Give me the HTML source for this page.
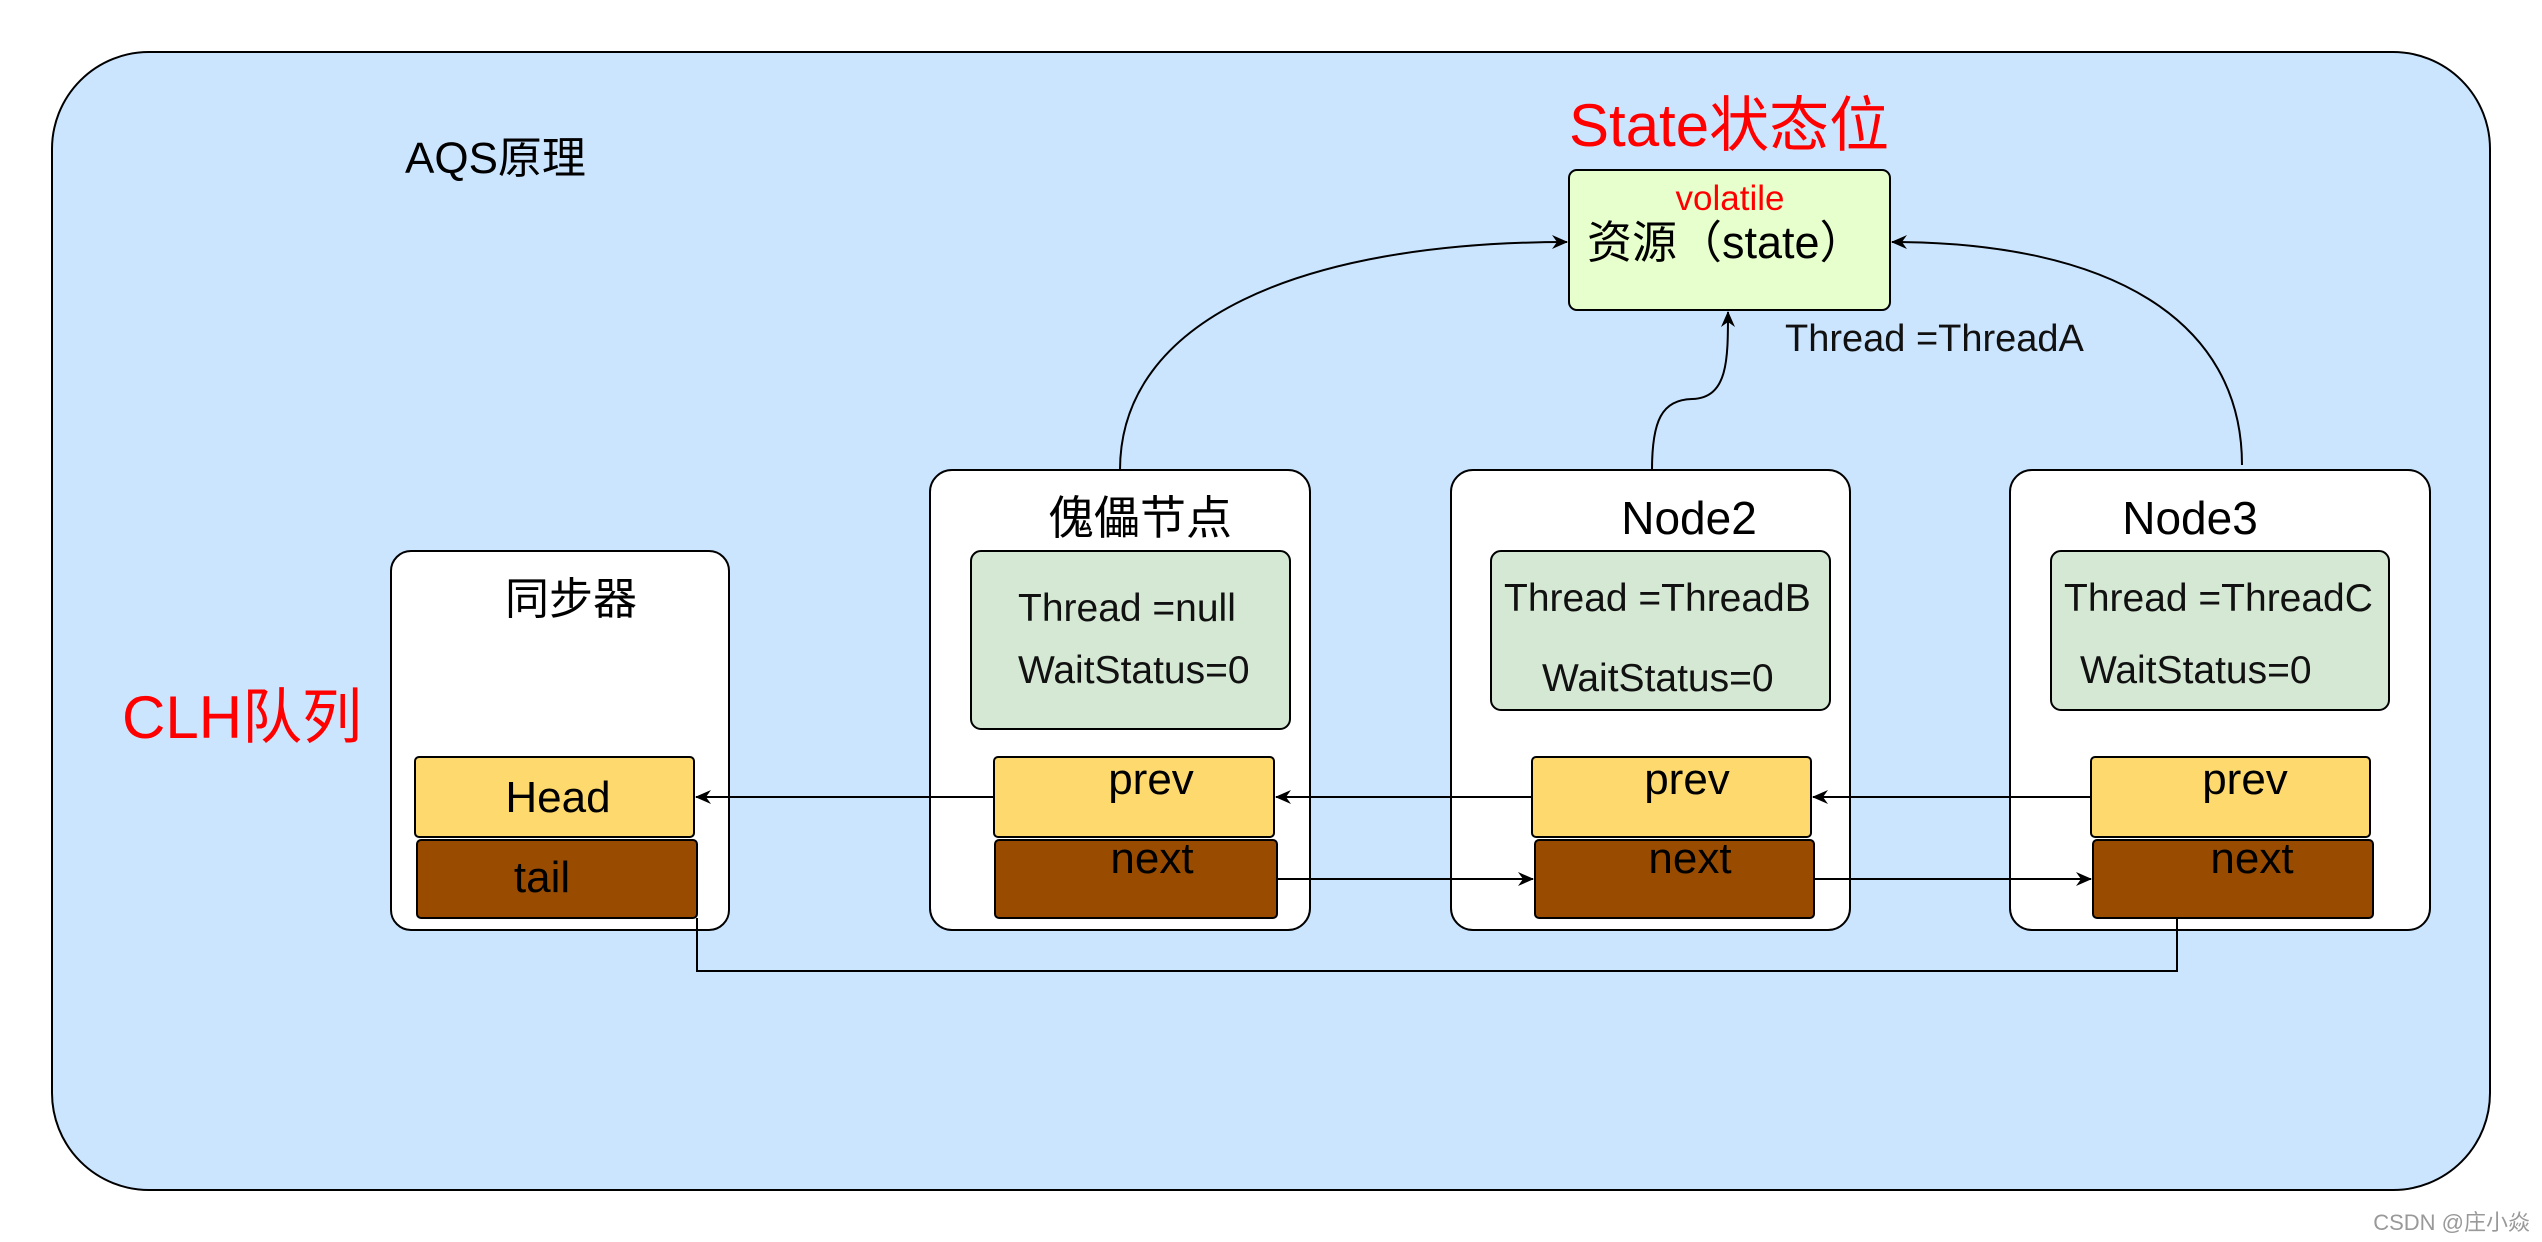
<!DOCTYPE html>
<html><head><meta charset="utf-8"><style>
html,body{margin:0;padding:0;background:#fff;}
svg{display:block;}
text{font-family:"Liberation Sans","Noto Sans CJK SC",sans-serif;}
</style></head><body>
<svg width="2542" height="1242" viewBox="0 0 2542 1242" xmlns="http://www.w3.org/2000/svg">
<defs>
<marker id="ah" markerWidth="16" markerHeight="16" refX="15" refY="8" orient="auto" markerUnits="userSpaceOnUse">
<path d="M0,1 L16,8 L0,15 L5,8 Z" fill="#000"/>
</marker>
</defs>
<rect x="52" y="52" width="2438" height="1138" rx="97" fill="#cce5ff" stroke="#000" stroke-width="2"/>
<text x="405" y="173" font-size="44">AQS原理</text>
<text x="1569" y="146" font-size="60" fill="#ff0000">State状态位</text>
<rect x="1569" y="170" width="321" height="140" rx="8" fill="#e6ffcc" stroke="#000" stroke-width="2"/>
<text x="1730" y="210" font-size="35" fill="#ff0000" text-anchor="middle">volatile</text>
<text x="1587" y="258" font-size="45">资源（state）</text>
<text x="1785" y="351" font-size="38" fill="#111">Thread =ThreadA</text>
<text x="122" y="738" font-size="60" fill="#ff0000">CLH队列</text>

<rect x="391" y="551" width="338" height="379" rx="20" fill="#fff" stroke="#000" stroke-width="2"/>
<text x="571" y="614" font-size="44" text-anchor="middle">同步器</text>
<rect x="415" y="757" width="279" height="80" rx="4" fill="#fdd96e" stroke="#000" stroke-width="2"/>
<text x="558" y="812" font-size="44" text-anchor="middle">Head</text>
<rect x="417" y="840" width="280" height="78" rx="4" fill="#994c00" stroke="#000" stroke-width="2"/>
<text x="542" y="892" font-size="44" text-anchor="middle">tail</text>

<rect x="930" y="470" width="380" height="460" rx="22" fill="#fff" stroke="#000" stroke-width="2"/>
<text x="1140" y="534" font-size="46" text-anchor="middle">傀儡节点</text>
<rect x="971" y="551" width="319" height="178" rx="10" fill="#d5e8d4" stroke="#000" stroke-width="2"/>
<text x="1018" y="621" font-size="39" fill="#111">Thread =null</text>
<text x="1018" y="683" font-size="39" fill="#111">WaitStatus=0</text>
<rect x="994" y="757" width="280" height="80" rx="4" fill="#fdd96e" stroke="#000" stroke-width="2"/>
<text x="1151" y="794" font-size="44" text-anchor="middle">prev</text>
<rect x="995" y="840" width="282" height="78" rx="4" fill="#994c00" stroke="#000" stroke-width="2"/>
<text x="1152" y="873" font-size="44" text-anchor="middle">next</text>

<rect x="1451" y="470" width="399" height="460" rx="22" fill="#fff" stroke="#000" stroke-width="2"/>
<text x="1689" y="534" font-size="46" text-anchor="middle">Node2</text>
<rect x="1491" y="551" width="339" height="159" rx="10" fill="#d5e8d4" stroke="#000" stroke-width="2"/>
<text x="1504" y="611" font-size="39" fill="#111">Thread =ThreadB</text>
<text x="1542" y="691" font-size="39" fill="#111">WaitStatus=0</text>
<rect x="1532" y="757" width="279" height="80" rx="4" fill="#fdd96e" stroke="#000" stroke-width="2"/>
<text x="1687" y="794" font-size="44" text-anchor="middle">prev</text>
<rect x="1535" y="840" width="279" height="78" rx="4" fill="#994c00" stroke="#000" stroke-width="2"/>
<text x="1690" y="873" font-size="44" text-anchor="middle">next</text>

<rect x="2010" y="470" width="420" height="460" rx="22" fill="#fff" stroke="#000" stroke-width="2"/>
<text x="2190" y="534" font-size="46" text-anchor="middle">Node3</text>
<rect x="2051" y="551" width="338" height="159" rx="10" fill="#d5e8d4" stroke="#000" stroke-width="2"/>
<text x="2064" y="611" font-size="39" fill="#111">Thread =ThreadC</text>
<text x="2080" y="683" font-size="39" fill="#111">WaitStatus=0</text>
<rect x="2091" y="757" width="279" height="80" rx="4" fill="#fdd96e" stroke="#000" stroke-width="2"/>
<text x="2245" y="794" font-size="44" text-anchor="middle">prev</text>
<rect x="2093" y="840" width="280" height="78" rx="4" fill="#994c00" stroke="#000" stroke-width="2"/>
<text x="2252" y="873" font-size="44" text-anchor="middle">next</text>

<g stroke="#000" stroke-width="2" fill="none">
<line x1="994" y1="797" x2="696" y2="797" marker-end="url(#ah)"/>
<line x1="1532" y1="797" x2="1276" y2="797" marker-end="url(#ah)"/>
<line x1="2091" y1="797" x2="1813" y2="797" marker-end="url(#ah)"/>
<line x1="1277" y1="879" x2="1533" y2="879" marker-end="url(#ah)"/>
<line x1="1814" y1="879" x2="2091" y2="879" marker-end="url(#ah)"/>
<polyline points="697,918 697,971 2177,971 2177,918"/>
<path d="M1120 470 C1120 320 1300 242 1567 242" marker-end="url(#ah)"/>
<path d="M1652 470 C1652 420 1662 400 1692 399 C1728 398 1728 360 1728 312" marker-end="url(#ah)"/>
<path d="M2242 465 C2242 320 2110 242 1892 242" marker-end="url(#ah)"/>
</g>
<text x="2530" y="1230" font-size="22" fill="#999" text-anchor="end">CSDN @庄小焱</text>
</svg>
</body></html>
